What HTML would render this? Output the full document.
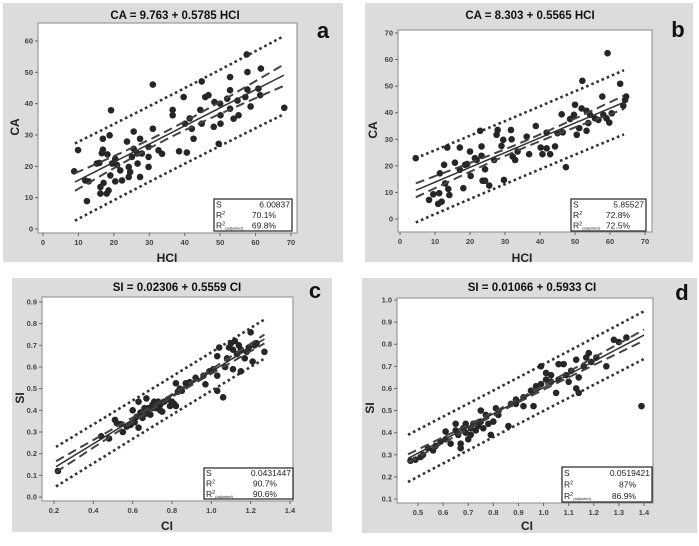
<!DOCTYPE html>
<html><head><meta charset="utf-8">
<style>
html,body{margin:0;padding:0;background:#fff;}
svg{display:block;font-family:"Liberation Sans",Arial,sans-serif;}
</style></head>
<body>
<svg id="fig" width="699" height="546" viewBox="0 0 699 546" xmlns="http://www.w3.org/2000/svg"></svg>
<script>
// ---- Panel a data (HCI vs CA)
const aX = [8.8,9.9,12.4,11.9,12.9,15.2,15.9,16.2,16.2,16.6,16.9,16.9,17.1,18,18.5,18.2,18.8,19.2,19,19.5,20.4,20.4,20.9,21.8,22.3,23.7,24.2,24.2,24.6,25.1,25.6,25.6,26.6,26.7,27.4,27.4,27.9,31,29.8,29.8,29.8,31,32.6,33.6,36.6,36.6,38.4,39.7,40.1,40.6,41.4,42,42.5,44.4,44.8,44.8,45.8,46.7,48.2,48.4,49.6,50.1,50.1,52,52.8,52.8,52.8,53.8,55.2,57.5,57.7,57.7,57.1,58.6,60.8,61.3,61.5,68.1,54.9,50];
const aY = [18.4,25.2,8.9,15.5,15.2,20.9,21.1,11.3,13.4,24.2,25.3,28.8,14.7,11.3,12.3,23.8,29.9,37.9,17.1,20.9,22.4,15.2,20.4,18.7,15.5,27.9,19.8,16.6,18.2,23,31.1,25.6,24.1,20.9,28.8,16.6,24.1,46.1,23,26.2,19.8,32,25.1,24,38,36.3,24.8,42.1,33.6,24.4,35.3,32,28.8,38,33.6,47.1,42.1,42.7,32.6,40.5,27.2,36.3,33.6,41.6,48.5,44.3,38.4,35.2,36.3,55.7,44.5,50.1,42.1,39.1,44.8,42.7,51.2,38.7,41,40];
const aXTicks = [0,10,20,30,40,50,60,70];
const aYTicks = [0,10,20,30,40,50,60];
const aFit = [9.763,0.5785];
// ---- Panel b data
const bX = [4.5,8.3,9.5,10.9,11.9,11.2,11.4,12.6,13.5,13.8,14.1,12.9,15.7,17.1,17.1,18.1,18.6,19.2,20,20.2,21.4,21.9,22.9,23.3,23.6,24.3,24.3,23.3,25.5,26.9,27.6,27.9,29,29.5,29.7,31.7,31.9,32.2,32.9,33.6,36.2,36.9,38.8,40.2,40.7,41.9,41.9,42.9,44.3,45,46.2,46.5,47.4,48.6,49.7,50,50.5,51.2,51.9,52.1,53.3,53.3,53.8,55.7,56.7,57.8,59,59.3,59.8,60.5,62.9,63.8,64.6,64.3,54.3,58.1];
const bY = [22.9,7.2,9.3,5.7,6.5,9.7,17.2,20.4,26.9,11.3,9,13.4,21.2,26.9,18.5,11.6,20.4,20.7,25.4,16.2,22.9,22.2,33.2,27.3,14.4,14.4,18.7,23.8,12.6,22.2,31.7,33.5,27.5,29.8,14.7,33.5,30,23.5,22.2,25.4,31,24.4,35,26.9,24.4,26.6,32.5,24.4,27.3,32.3,39.4,32.6,19.5,37.6,39.2,43,31.7,34.2,41.6,52,40.7,33.2,36.1,37.9,37.3,46.1,37.9,62.4,36.3,39.8,50.9,42.6,46.1,44.8,39.2,39.2];
const bXTicks = [0,10,20,30,40,50,60,70];
const bYTicks = [0,10,20,30,40,50,60,70];
const bFit = [8.303,0.5565];
// ---- Panel c data
const cX = [0.22,0.44,0.48,0.51,0.52,0.54,0.55,0.57,0.59,0.6,0.61,0.62,0.63,0.63,0.64,0.65,0.66,0.67,0.67,0.68,0.69,0.7,0.7,0.71,0.72,0.73,0.74,0.74,0.75,0.76,0.78,0.79,0.8,0.81,0.82,0.82,0.83,0.84,0.85,0.87,0.89,0.92,0.96,0.97,0.99,1.01,1.03,1.03,1.03,1.04,1.06,1.07,1.08,1.09,1.1,1.11,1.11,1.12,1.13,1.14,1.15,1.15,1.17,1.18,1.19,1.2,1.21,1.22,1.23,1.27];
const cY = [0.12,0.28,0.27,0.356,0.34,0.336,0.3,0.325,0.333,0.4,0.345,0.37,0.44,0.32,0.39,0.365,0.41,0.455,0.385,0.41,0.38,0.425,0.41,0.44,0.41,0.44,0.4,0.425,0.394,0.44,0.45,0.42,0.44,0.43,0.42,0.525,0.486,0.5,0.49,0.525,0.53,0.55,0.56,0.52,0.58,0.59,0.56,0.49,0.65,0.69,0.46,0.6,0.64,0.69,0.71,0.68,0.59,0.72,0.66,0.7,0.58,0.68,0.64,0.67,0.69,0.76,0.625,0.7,0.71,0.67];
const cXTicks = [0.2,0.4,0.6,0.8,1.0,1.2,1.4];
const cYTicks = [0.0,0.1,0.2,0.3,0.4,0.5,0.6,0.7,0.8,0.9];
const cFit = [0.02306,0.5559];
// ---- Panel d data
const dX = [0.47,0.49,0.51,0.52,0.54,0.56,0.57,0.59,0.61,0.61,0.63,0.65,0.65,0.66,0.67,0.67,0.68,0.69,0.69,0.7,0.71,0.71,0.72,0.73,0.74,0.75,0.75,0.76,0.77,0.78,0.79,0.8,0.81,0.82,0.86,0.87,0.89,0.89,0.92,0.92,0.95,0.96,0.97,0.99,0.99,1.01,1.01,1.03,1.03,1.05,1.06,1.06,1.08,1.09,1.1,1.11,1.13,1.13,1.14,1.14,1.16,1.17,1.18,1.19,1.21,1.25,1.28,1.3,1.33,1.39];
const dY = [0.273,0.278,0.29,0.3,0.33,0.32,0.34,0.36,0.405,0.37,0.35,0.44,0.41,0.39,0.33,0.35,0.42,0.4,0.44,0.37,0.42,0.39,0.44,0.41,0.43,0.5,0.45,0.42,0.48,0.44,0.39,0.45,0.51,0.48,0.43,0.53,0.55,0.53,0.56,0.52,0.59,0.52,0.61,0.62,0.7,0.67,0.64,0.63,0.66,0.58,0.64,0.71,0.71,0.66,0.63,0.68,0.73,0.6,0.58,0.65,0.7,0.74,0.76,0.72,0.74,0.7,0.82,0.81,0.83,0.52];
const dXTicks = [0.5,0.6,0.7,0.8,0.9,1.0,1.1,1.2,1.3,1.4];
const dYTicks = [0.1,0.2,0.3,0.4,0.5,0.6,0.7,0.8,0.9,1.0];
const dFit = [0.01066,0.5933];

const NS="http://www.w3.org/2000/svg";
const svg=document.getElementById('fig');
function mk(tag,attrs,parent){const e=document.createElementNS(NS,tag);for(const k in attrs)e.setAttribute(k,attrs[k]);(parent||svg).appendChild(e);return e;}

const panels=[
 {id:'a',xs:aX,ys:aY,xt:aXTicks,yt:aYTicks,fit:aFit,dec:0,bg:[3,3,340,259],box:[38,23,259,210],xm:[0,43,70,291],ym:[0,229,60,41],
  title:'CA = 9.763 + 0.5785 HCI',tx:175,ty:19,lx:323,ly:38,xl:'HCI',xlx:167,xly:262,yl:'CA',ylx:19,yly:127,
  stat:[214,199,78,32],sv:['6.00837','70.1%','69.8%'],xr:[9,68],m:35,c0:1.3,k:13.6,p0:12},
 {id:'b',xs:bX,ys:bY,xt:bXTicks,yt:bYTicks,fit:bFit,dec:0,bg:[365,3,328,259],box:[398,30,254,202],xm:[0,400,70,645],ym:[0,219,70,33],
  title:'CA = 8.303 + 0.5565 HCI',tx:530,ty:19,lx:678,ly:37,xl:'HCI',xlx:522,xly:262,yl:'CA',ylx:377,yly:130,
  stat:[571,199,75,32],sv:['5.85527','72.8%','72.5%'],xr:[4.5,64],m:35,c0:1.2,k:15.6,p0:11.8},
 {id:'c',xs:cX,ys:cY,xt:cXTicks,yt:cYTicks,fit:cFit,dec:1,bg:[12,278,320,254],box:[42,297,251,204],xm:[0.2,54,1.4,290],ym:[0,497,0.9,302],
  title:'SI = 0.02306 + 0.5559 CI',tx:177,ty:291,lx:315,ly:298,xl:'CI',xlx:167,xly:530,yl:'SI',ylx:24,yly:398,
  stat:[204,468,89,31],sv:['0.0431447','90.7%','90.6%'],xr:[0.21,1.27],m:0.8,c0:0.006,k:0.145,p0:0.088},
 {id:'d',xs:dX,ys:dY,xt:dXTicks,yt:dYTicks,fit:dFit,dec:1,bg:[362,278,335,255],box:[397,298,256,205],xm:[0.5,418,1.4,644],ym:[0.1,499,1.0,300],
  title:'SI = 0.01066 + 0.5933 CI',tx:532,ty:291,lx:682,ly:300,xl:'CI',xlx:527,xly:530,yl:'SI',ylx:374,yly:408,
  stat:[562,467,90,35],sv:['0.0519421','87%','86.9%'],xr:[0.46,1.4],m:0.85,c0:0.007,k:0.16,p0:0.105}
];

panels.forEach(P=>{
  const g=mk('g',{});
  
  
  const X=v=>P.xm[1]+(v-P.xm[0])*(P.xm[3]-P.xm[1])/(P.xm[2]-P.xm[0]);
  const Y=v=>P.ym[1]+(v-P.ym[0])*(P.ym[3]-P.ym[1])/(P.ym[2]-P.ym[0]);
  const bg=mk('rect',{x:P.bg[0],y:P.bg[1],width:P.bg[2],height:P.bg[3],fill:'#dcdcdc'},g);
  
  
  const pb=mk('rect',{x:P.box[0],y:P.box[1],width:P.box[2],height:P.box[3],fill:'#fff',stroke:'#9a9a9a','stroke-width':1.2},g);
  
  
  const bottom=P.box[1]+P.box[3], left=P.box[0];
  P.xt.forEach(v=>{
    mk('line',{x1:X(v),x2:X(v),y1:bottom,y2:bottom+3,stroke:'#666'},g);
    const t=mk('text',{x:X(v),y:bottom+12,'font-size':7.5,'font-weight':'bold',fill:'#444','text-anchor':'middle'},g);
    t.textContent=v.toFixed(P.dec);
    
    
  });
  P.yt.forEach(v=>{
    mk('line',{x1:left-3,x2:left,y1:Y(v),y2:Y(v),stroke:'#666'},g);
    const t=mk('text',{x:left-5,y:Y(v)+2.5,'font-size':7.5,'font-weight':'bold',fill:'#444','text-anchor':'end'},g);
    t.textContent=v.toFixed(P.dec);
    
    
  });
  // bands
  const fitv=x=>P.fit[0]+P.fit[1]*x;
  const ci=x=>P.c0*Math.sqrt(1+Math.pow((x-P.m)/P.k,2));
  const pi=x=>Math.sqrt(P.p0*P.p0+ci(x)*ci(x));
  function path(f){let d='';for(let i=0;i<=40;i++){const x=P.xr[0]+(P.xr[1]-P.xr[0])*i/40;d+=(i?'L':'M')+X(x).toFixed(1)+','+Y(f(x)).toFixed(1);}return d;}
  [[x=>fitv(x)+pi(x),'pi-upper'],[x=>fitv(x)-pi(x),'pi-lower']].forEach(([f,n])=>{
    const p=mk('path',{d:path(f),fill:'none',stroke:'#333','stroke-width':2.6,'stroke-dasharray':'2.6 3'},g);
    
    
  });
  // points
  P.xs.forEach((x,i)=>{
    const c=mk('circle',{cx:X(x),cy:Y(P.ys[i]),r:3.3,fill:'#262626'},g);
    
    
  });
  [[x=>fitv(x)+ci(x),'ci-upper'],[x=>fitv(x)-ci(x),'ci-lower']].forEach(([f,n])=>{
    const p=mk('path',{d:path(f),fill:'none',stroke:'#444','stroke-width':2,'stroke-dasharray':'9 5'},g);
    
    
  });
  const fl=mk('path',{d:path(fitv),fill:'none',stroke:'#333','stroke-width':1.5},g);
  
  
  // title, letter, axis labels
  const tt=mk('text',{x:P.tx,y:P.ty,'font-size':11.5,'font-weight':'bold',fill:'#111','text-anchor':'middle'},g);
  tt.textContent=P.title;
  
  
  const lt=mk('text',{x:P.lx,y:P.ly,'font-size':22,'font-weight':'bold',fill:'#111','text-anchor':'middle'},g);
  lt.textContent=P.id;
  
  
  const xl=mk('text',{x:P.xlx,y:P.xly,'font-size':12,'font-weight':'bold',fill:'#222','text-anchor':'middle'},g);
  xl.textContent=P.xl;
  
  
  const yl=mk('text',{x:P.ylx,y:P.yly,'font-size':12,'font-weight':'bold',fill:'#222','text-anchor':'middle',transform:'rotate(-90 '+P.ylx+' '+P.yly+')'},g);
  yl.textContent=P.yl;
  
  
  // stats box
  const [sx,sy,sw,sh]=P.stat;
  const sb=mk('rect',{x:sx,y:sy,width:sw,height:sh,fill:'#fff',stroke:'#222','stroke-width':1.2},g);
  
  
  const labs=['S','R','R'];
  for(let i=0;i<3;i++){
    const yy=sy+sh*(i+0.5)/3+3;
    const l=mk('text',{x:sx+2,y:yy,'font-size':8.5,fill:'#222'},g);
    l.textContent=labs[i];
    if(i>0){const s=mk('tspan',{'font-size':5.5,dy:-3},l);s.textContent='2';}
    if(i===2){const s=mk('tspan',{'font-size':4,dy:4},l);s.textContent='(adjusted)';}
    
    
    const v=mk('text',{x:sx+sw-(i===0?2:16),y:yy,'font-size':8.5,fill:'#222','text-anchor':'end'},g);
    v.textContent=P.sv[i];
    
    
  }
});
</script>
</body></html>
